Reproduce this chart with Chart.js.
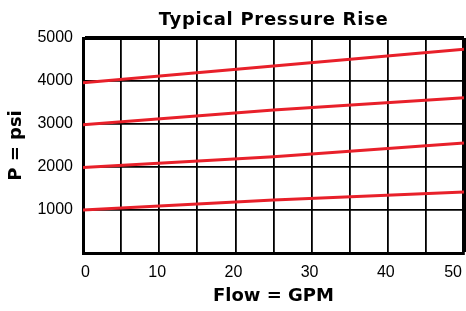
<!DOCTYPE html>
<html>
<head>
<meta charset="utf-8">
<script src="https://cdn.jsdelivr.net/npm/chart.js@4"></script>
<style>
html,body{margin:0;padding:0;background:#fff;}
#wrap{width:466px;height:311px;position:relative;}
</style>
</head>
<body>
<div id="wrap"><canvas id="c" width="466" height="311"></canvas></div>
<script>
const titleText = "Typical Pressure Rise";
const xTitle = "Flow = GPM";
const yTitle = "P = psi";
const flow = [0, 25, 50];
const series4000 = [3960, 4350, 4740];
const series3000 = [2980, 3325, 3610];
const series2000 = [1990, 2240, 2560];
const series1000 = [1000, 1232, 1420];
const xTickLabels = [0, 10, 20, 30, 40, 50];
const yTickLabels = [1000, 2000, 3000, 4000, 5000];

const red = '#e8202a';
const tickFont = '"Liberation Sans", Arial, sans-serif';
const boldFont = '"DejaVu Sans", sans-serif';
function ds(vals){
  return {data: flow.map((x,i)=>({x:x, y:vals[i]})), borderColor: red, borderWidth: 3,
    pointRadius: 0, tension: 0, fill: false};
}

const titlePlugin = {
  id: 'topTitle',
  afterDraw(chart){
    const ctx = chart.ctx, a = chart.chartArea;
    ctx.save();
    ctx.font = 'bold 18px ' + boldFont;
    ctx.fillStyle = '#000';
    ctx.textAlign = 'center';
    ctx.textBaseline = 'alphabetic';
    try { ctx.letterSpacing = '0.7px'; } catch(e) {}
    ctx.fillText(titleText, (a.left + a.right) / 2, 25);
    ctx.restore();
  }
};

new Chart(document.getElementById('c'), {
  type: 'line',
  data: { datasets: [ds(series4000), ds(series3000), ds(series2000), ds(series1000)] },
  options: {
    responsive: false,
    animation: false,
    layout: { padding: { left: 0, right: 2, top: 38, bottom: 0 } },
    plugins: { legend: { display: false }, tooltip: { enabled: false }, title: { display: false } },
    scales: {
      x: {
        type: 'linear', min: 0, max: 50,
        ticks: { stepSize: 5, color: '#000', padding: 10, maxRotation: 0, autoSkip: false,
          align: 'inner', labelOffset: -2,
          font: { family: tickFont, size: 16 },
          callback: (v) => xTickLabels.includes(v) ? String(v) : '' },
        grid: { color: '#000', drawTicks: false,
          lineWidth: (c) => (c.tick && c.tick.value === 50) ? 4 : 1.8 },
        border: { display: true, color: '#000', width: 3 },
        title: { display: true, text: xTitle, color: '#000', padding: { top: 0, bottom: 4 },
          font: { family: boldFont, size: 18, weight: 'bold' } },
        afterFit(s){ s.height = 58; s.paddingLeft = 0; s.paddingRight = 0; }
      },
      y: {
        type: 'linear', min: 0, max: 5000,
        ticks: { stepSize: 1000, color: '#000', padding: 10,
          font: { family: tickFont, size: 16 },
          callback: (v) => yTickLabels.includes(v) ? String(v) : '' },
        grid: { color: '#000', drawTicks: false,
          lineWidth: (c) => (c.tick && c.tick.value === 5000) ? 4 : 1.8 },
        border: { display: true, color: '#000', width: 3 },
        title: { display: true, text: yTitle, color: '#000', padding: { top: 6, bottom: 0 },
          font: { family: boldFont, size: 18, weight: 'bold' } },
        afterFit(s){ s.width = 83; s.paddingTop = 0; s.paddingBottom = 0; }
      }
    }
  },
  plugins: [titlePlugin]
});
</script>
</body>
</html>
